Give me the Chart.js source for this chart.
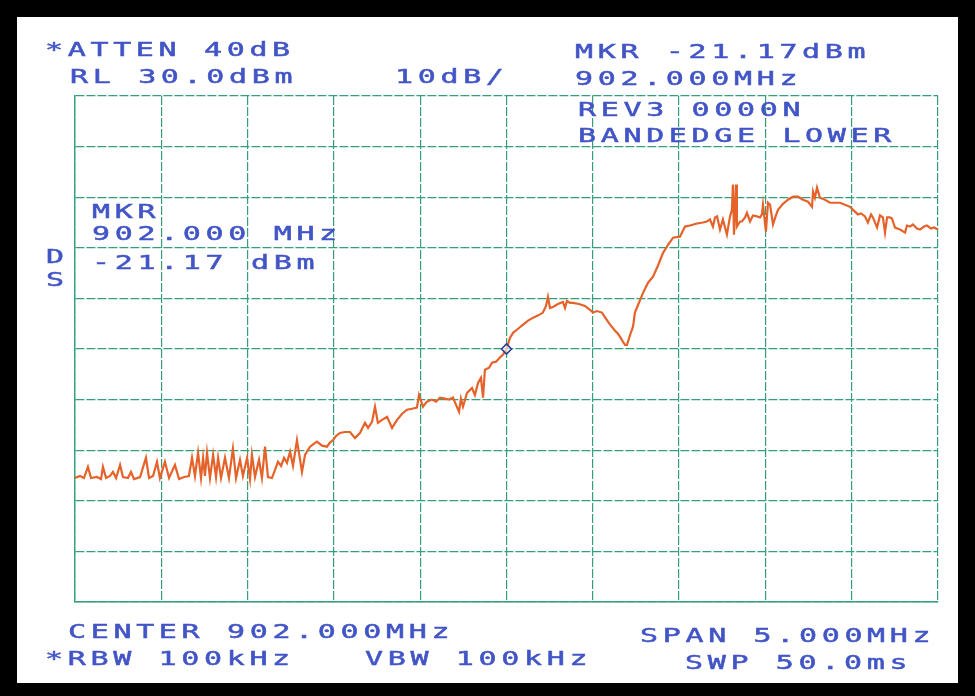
<!DOCTYPE html>
<html>
<head>
<meta charset="utf-8">
<script src="https://cdn.jsdelivr.net/npm/chart.js@4.4.1/dist/chart.umd.min.js"></script>
<style>
  html, body { margin: 0; padding: 0; background: #000; }
  #chart { display: block; }
</style>
</head>
<body>
<canvas id="chart" width="975" height="696"></canvas>
<script>
// sweep: frequency (MHz) and level (dBm)
const freqMHz = [
  899.500, 899.529, 899.552, 899.575, 899.593, 899.627, 899.651, 899.662, 899.680, 899.703,
  899.720, 899.738, 899.761, 899.778, 899.807, 899.824, 899.842, 899.877, 899.911, 899.929,
  899.952, 899.975, 899.992, 900.021, 900.045, 900.079, 900.103, 900.132, 900.160, 900.178,
  900.195, 900.213, 900.230, 900.242, 900.253, 900.265, 900.282, 900.300, 900.317, 900.329,
  900.346, 900.369, 900.392, 900.415, 900.433, 900.456, 900.473, 900.497, 900.514, 900.525,
  900.543, 900.566, 900.583, 900.601, 900.618, 900.641, 900.659, 900.676, 900.694, 900.711,
  900.728, 900.746, 900.763, 900.786, 900.804, 900.815, 900.833, 900.862, 900.885, 900.902,
  900.931, 900.960, 900.977, 900.995, 901.012, 901.035, 901.064, 901.093, 901.122, 901.151,
  901.180, 901.198, 901.221, 901.238, 901.255, 901.279, 901.308, 901.337, 901.366, 901.395,
  901.424, 901.452, 901.481, 901.493, 901.516, 901.539, 901.568, 901.592, 901.615, 901.644,
  901.667, 901.690, 901.707, 901.725, 901.736, 901.748, 901.771, 901.800, 901.817, 901.835,
  901.852, 901.864, 901.875, 901.899, 901.916, 901.939, 901.962, 901.980, 902.000, 902.020,
  902.038, 902.067, 902.096, 902.125, 902.154, 902.182, 902.211, 902.229, 902.240, 902.252,
  902.269, 902.298, 902.327, 902.339, 902.350, 902.368, 902.385, 902.420, 902.455, 902.478,
  902.501, 902.524, 902.553, 902.576, 902.600, 902.629, 902.646, 902.658, 902.675, 902.687,
  902.698, 902.716, 902.733, 902.744, 902.762, 902.791, 902.820, 902.849, 902.878, 902.907,
  902.936, 902.965, 903.005, 903.034, 903.063, 903.104, 903.138, 903.162, 903.179, 903.196,
  903.208, 903.220, 903.237, 903.254, 903.266, 903.277, 903.295, 903.306, 903.312, 903.318,
  903.330, 903.335, 903.353, 903.364, 903.382, 903.393, 903.411, 903.428, 903.451, 903.469,
  903.480, 903.486, 903.503, 903.515, 903.527, 903.544, 903.561, 903.573, 903.602, 903.631,
  903.660, 903.689, 903.718, 903.747, 903.770, 903.776, 903.787, 903.799, 903.816, 903.845,
  903.874, 903.903, 903.932, 903.961, 903.990, 904.008, 904.036, 904.054, 904.077, 904.094,
  904.112, 904.123, 904.147, 904.164, 904.181, 904.193, 904.205, 904.222, 904.233, 904.251,
  904.280, 904.309, 904.320, 904.338, 904.355, 904.378, 904.396, 904.419, 904.436, 904.460,
  904.477, 904.500
];
const levelDbm = [
  -45.5, -45.1, -45.5, -43.3, -45.5, -45.3, -45.7, -43.3, -45.5, -45.1,
  -44.3, -45.5, -42.9, -45.3, -45.5, -44.3, -45.7, -45.3, -41.5, -45.5,
  -45.1, -42.3, -45.5, -42.3, -45.5, -42.9, -45.7, -45.3, -45.1, -41.5,
  -45.1, -40.5, -45.5, -41.5, -45.1, -40.5, -45.5, -40.9, -45.3, -41.5,
  -45.5, -41.5, -45.5, -39.7, -45.5, -41.9, -45.1, -41.5, -45.7, -40.9,
  -45.3, -41.9, -45.5, -39.3, -45.3, -45.5, -43.9, -42.3, -43.1, -41.5,
  -42.5, -40.3, -43.1, -38.0, -41.9, -44.3, -40.9, -39.3, -38.7, -38.3,
  -39.1, -39.3, -38.5, -38.0, -37.2, -36.6, -36.4, -36.4, -37.6, -36.6,
  -34.6, -35.6, -34.4, -31.4, -34.6, -34.0, -33.4, -35.6, -34.0, -32.8,
  -32.0, -31.8, -31.6, -29.1, -31.4, -30.4, -30.0, -30.4, -29.6, -29.8,
  -30.0, -29.6, -31.0, -32.4, -29.8, -31.4, -28.7, -27.7, -29.1, -26.7,
  -25.7, -29.6, -24.1, -23.7, -22.7, -22.5, -21.7, -21.1, -20.0, -17.8,
  -16.8, -16.0, -15.2, -14.4, -13.8, -13.4, -12.8, -11.5, -9.7, -11.9,
  -11.7, -11.1, -10.7, -11.9, -10.5, -10.9, -10.9, -11.1, -11.5, -12.1,
  -12.8, -12.5, -12.8, -14.0, -15.2, -16.4, -17.0, -17.6, -18.6, -19.2,
  -19.2, -17.2, -15.6, -12.8, -11.3, -8.9, -6.9, -5.7, -3.5, -1.0,
  0.6, 2.0, 2.2, 4.2, 4.4, 4.8, 5.0, 5.2, 5.6, 4.2,
  6.0, 6.2, 3.6, 5.6, 4.0, 2.6, 6.2, 7.5, 12.5, 2.6,
  12.5, 4.2, 5.2, 5.2, 6.0, 6.9, 5.2, 6.4, 6.2, 6.0,
  6.6, 8.5, 3.2, 8.9, 8.5, 4.6, 6.4, 7.5, 8.7, 9.5,
  10.1, 10.1, 9.5, 9.1, 8.1, 11.1, 9.9, 11.9, 9.9, 9.5,
  8.9, 8.9, 8.9, 8.5, 8.1, 7.5, 6.6, 6.8, 6.2, 5.0,
  6.6, 6.0, 4.0, 6.4, 6.0, 3.0, 6.0, 6.0, 5.8, 4.0,
  3.6, 3.0, 4.4, 4.2, 4.6, 3.8, 3.6, 4.2, 4.4, 3.8,
  4.0, 3.6
];

// marker
const markerMHz = [902.000];
const markerDbm = [-20.0];

// screen annotations (text, x, baseline)
const annotations = [
  ['*ATTEN 40dB', 45, 56],
  ['RL 30.0dBm', 70, 83],
  ['10dB/', 395, 83],
  ['MKR -21.17dBm', 575, 58],
  ['902.000MHz', 575, 85],
  ['REV3 0000N', 578, 116],
  ['BANDEDGE LOWER', 578, 142],
  ['MKR', 92, 218],
  ['902.000 MHz', 92, 240],
  ['-21.17 dBm', 92, 269],
  ['D', 46, 263],
  ['S', 46, 286],
  ['CENTER 902.000MHz', 68, 638],
  ['SPAN 5.000MHz', 640, 642],
  ['*RBW 100kHz', 45, 665],
  ['VBW 100kHz', 365, 665],
  ['SWP 50.0ms', 685, 669]
];

const gridColor = '#35a078';
const textColor = '#4255c6';

const tracePoints = freqMHz.map((f, i) => ({ x: f, y: levelDbm[i] }));
const markerPoints = markerMHz.map((f, i) => ({ x: f, y: markerDbm[i] }));

// black frame + white paper
const paperPlugin = {
  id: 'paper',
  beforeDraw(chart) {
    const ctx = chart.ctx;
    ctx.save();
    ctx.fillStyle = '#000';
    ctx.fillRect(0, 0, chart.width, chart.height);
    ctx.fillStyle = '#fff';
    ctx.fillRect(17, 17, 941, 666);
    ctx.restore();
  }
};

// analyzer screen text, plotter style (wide, evenly spaced)
const labelsPlugin = {
  id: 'screenText',
  afterDraw(chart) {
    const ctx = chart.ctx;
    const sx = 1.5;
    ctx.save();
    ctx.fillStyle = textColor;
    ctx.strokeStyle = textColor;
    ctx.lineWidth = 0.5;
    ctx.font = '20px "DejaVu Sans Mono"';
    ctx.textBaseline = 'alphabetic';
    ctx.letterSpacing = '3.1px';
    annotations.forEach(([txt, x, y]) => {
      ctx.save();
      ctx.translate(x, y);
      ctx.scale(sx, 1);
      ctx.fillText(txt, 0, 0);
      ctx.strokeText(txt, 0, 0);
      ctx.restore();
    });
    ctx.restore();
  }
};

new Chart(document.getElementById('chart').getContext('2d'), {
  type: 'line',
  data: {
    datasets: [
      {
        label: 'trace',
        data: tracePoints,
        borderColor: '#e5632a',
        borderWidth: 2.2,
        pointRadius: 0,
        tension: 0,
        order: 2
      },
      {
        label: 'marker',
        data: markerPoints,
        showLine: false,
        pointStyle: 'rectRot',
        pointRadius: 5,
        pointBorderColor: '#2c3d8f',
        pointBackgroundColor: 'rgba(255,255,255,0.6)',
        pointBorderWidth: 1.6,
        order: 1
      }
    ]
  },
  options: {
    responsive: false,
    animation: false,
    layout: {
      padding: { left: 75, right: 37, top: 96, bottom: 94 }
    },
    plugins: {
      legend: { display: false },
      tooltip: { enabled: false },
      title: { display: false }
    },
    scales: {
      x: {
        type: 'linear',
        min: 899.5,
        max: 904.5,
        ticks: { display: false, stepSize: 0.5 },
        grid: { color: gridColor, lineWidth: 1.2, drawTicks: false },
        border: { display: true, color: gridColor, width: 1.4, dash: [9, 2] }
      },
      y: {
        type: 'linear',
        min: -70,
        max: 30,
        ticks: { display: false, stepSize: 10 },
        grid: { color: gridColor, lineWidth: 1.2, drawTicks: false },
        border: { display: true, color: gridColor, width: 1.4, dash: [9, 2] }
      }
    }
  },
  plugins: [paperPlugin, labelsPlugin]
});
</script>
</body>
</html>
